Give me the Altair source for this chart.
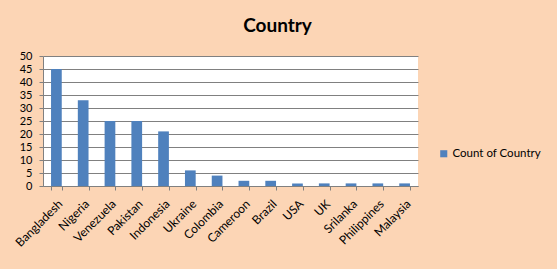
import altair as alt
import pandas as pd

countries = ["Bangladesh", "Nigeria", "Venezuela", "Pakistan", "Indonesia", "Ukraine",
             "Colombia", "Cameroon", "Brazil", "USA", "UK", "Srilanka", "Philippines", "Malaysia"]
counts = [45, 33, 25, 25, 21, 6, 4, 2, 2, 1, 1, 1, 1, 1]
series = ["Count of Country"] * len(countries)

df = pd.DataFrame({"Country": countries, "Count": counts, "Series": series})

FONT = "Lato"
GRID = "#808080"

chart = alt.Chart(df).mark_bar(color="#4F81BD").encode(
    x=alt.X("Country:N", sort=countries, title=None,
            scale=alt.Scale(paddingInner=0.6, paddingOuter=0.3),
            axis=alt.Axis(labelAngle=-45, labelAlign="right", labelBaseline="top",
                          tickBand="extent", tickSize=4, tickColor=GRID,
                          domainColor=GRID, labelFontSize=12, labelColor="#000000",
                          labelFont=FONT, labelPadding=8)),
    y=alt.Y("Count:Q", title=None,
            scale=alt.Scale(domain=[0, 50], nice=False),
            axis=alt.Axis(values=list(range(0, 51, 5)), grid=True, gridColor=GRID,
                          gridOpacity=1, tickSize=4, tickColor=GRID, domainColor=GRID,
                          labelFontSize=11, labelColor="#000000", labelFont=FONT,
                          labelPadding=7)),
    color=alt.Color("Series:N", title=None,
                    scale=alt.Scale(range=["#4F81BD"]),
                    legend=alt.Legend(orient="none", legendX=395, legendY=92,
                                      symbolType="square", symbolSize=50,
                                      symbolStrokeWidth=0, labelFontSize=11.5,
                                      labelFont=FONT, labelColor="#000000",
                                      labelOffset=3)),
).properties(
    width=375,
    height=130,
    background="#FCD5B5",
    padding={"left": 43, "top": 56, "right": 139, "bottom": 83},
    autosize=alt.AutoSizeParams(type="none"),
    title=alt.TitleParams("Country", fontSize=19, font=FONT, fontWeight="bold",
                          color="#000000", anchor="middle", dx=47, offset=14),
).configure_view(
    fill="#FFFFFF", stroke=None
)

chart.save("out.html", embed_options={"renderer": "svg", "actions": False})
